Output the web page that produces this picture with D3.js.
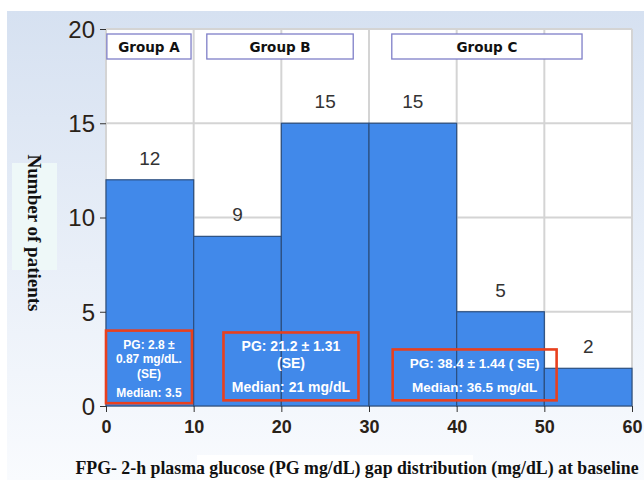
<!DOCTYPE html>
<html><head><meta charset="utf-8">
<script src="https://cdn.jsdelivr.net/npm/d3@7"></script>
<style>body{margin:0;background:#fff}svg{display:block}</style>
</head><body>
<svg id="c" width="644" height="480"></svg>
<script>
const binStarts = [0, 10, 20, 30, 40, 50];
const binWidth = 10;
const counts = [12, 9, 15, 15, 5, 2];
const yTicks = [0, 5, 10, 15, 20];
const xTicks = [0, 10, 20, 30, 40, 50, 60];
const groups = [
  {name: "Group A", x0: 0.1, x1: 9.7},
  {name: "Group B", x0: 11.5, x1: 28.2},
  {name: "Group C", x0: 32.6, x1: 54.3}
];
const notes = [
  {x0: 0, x1: 9.8, yTop: 4.0, yBot: 0.15, lines: ["PG: 2.8 ±", "0.87 mg/dL.", "(SE)", "Median: 3.5"], ys: [3.05, 2.3, 1.5, 0.5], size: 12},
  {x0: 13.4, x1: 28.8, yTop: 3.9, yBot: 0.3, lines: ["PG: 21.2 ± 1.31", "(SE)", "Median: 21 mg/dL"], ys: [2.9, 2.0, 0.75], size: 14},
  {x0: 32.7, x1: 51.4, yTop: 3.0, yBot: 0.3, lines: ["PG: 38.4 ± 1.44 ( SE)", "Median: 36.5 mg/dL"], ys: [2.0, 0.75], size: 13.5}
];

const svg = d3.select("#c");
const defs = svg.append("defs");
const g = defs.append("linearGradient").attr("id","bg").attr("x1",0).attr("y1",0).attr("x2",0).attr("y2",1);
g.append("stop").attr("offset","0%").attr("stop-color","#d6e1f1");
g.append("stop").attr("offset","100%").attr("stop-color","#f9fbfe");
svg.append("rect").attr("x",7).attr("y",11).attr("width",637).attr("height",469).attr("fill","url(#bg)");

const x = d3.scaleLinear().domain([0,60]).range([106,632]);
const y = d3.scaleLinear().domain([0,20]).range([406,29]);

svg.append("rect").attr("x",x(0)).attr("y",y(20)).attr("width",x(60)-x(0)).attr("height",y(0)-y(20)).attr("fill","#fff");

svg.append("g").selectAll("line").data(yTicks).join("line")
  .attr("x1",x(0)).attr("x2",x(60)).attr("y1",d=>y(d)).attr("y2",d=>y(d))
  .attr("stroke","#d4d4d4").attr("stroke-width",2);
svg.append("g").selectAll("line").data(xTicks).join("line")
  .attr("x1",d=>x(d)).attr("x2",d=>x(d)).attr("y1",y(0)).attr("y2",y(20))
  .attr("stroke","#d4d4d4").attr("stroke-width",2);

svg.append("g").selectAll("rect").data(counts).join("rect")
  .attr("x",(d,i)=>x(binStarts[i])).attr("width",(d,i)=>x(binStarts[i]+binWidth)-x(binStarts[i]))
  .attr("y",d=>y(d)).attr("height",d=>y(0)-y(d))
  .attr("fill","#4189ea").attr("stroke","#2c4f7f").attr("stroke-width",1.2);

svg.append("g").selectAll("text").data(counts).join("text")
  .attr("x",(d,i)=>x(binStarts[i]+binWidth/2)).attr("y",d=>y(d)-15)
  .attr("text-anchor","middle").attr("font-family","Liberation Sans, Arial, sans-serif")
  .attr("font-size",19).attr("fill","#333").text(d=>d);

const ya = svg.append("g").attr("transform",`translate(${x(0)},0)`)
  .call(d3.axisLeft(y).tickValues(yTicks).tickSize(6).tickPadding(5));
ya.select(".domain").remove();
ya.selectAll("line").attr("stroke","#333");
ya.selectAll("text").attr("font-family","Liberation Sans, Arial, sans-serif").attr("font-size",24).attr("fill","#2a2218").attr("dy","0.35em");

const xa = svg.append("g").attr("transform",`translate(0,${y(0)})`)
  .call(d3.axisBottom(x).tickValues(xTicks).tickSize(6).tickPadding(8));
xa.select(".domain").remove();
xa.selectAll("line").attr("stroke","#333");
xa.selectAll("text").attr("font-family","Liberation Sans, Arial, sans-serif").attr("font-size",18).attr("font-weight","bold").attr("fill","#2a2218");

const gb = svg.append("g").selectAll("g").data(groups).join("g");
gb.append("rect").attr("x",d=>x(d.x0)).attr("width",d=>x(d.x1)-x(d.x0)).attr("y",34).attr("height",25)
  .attr("fill","#fff").attr("stroke","#7f7fc8").attr("stroke-width",1.3);
gb.append("text").attr("x",d=>(x(d.x0)+x(d.x1))/2).attr("y",52).attr("text-anchor","middle")
  .attr("font-family","DejaVu Sans, Verdana, sans-serif").attr("font-weight","bold").attr("font-size",13.5).attr("fill","#111")
  .text(d=>d.name);

const nb = svg.append("g").selectAll("g").data(notes).join("g");
nb.append("rect").attr("x",d=>x(d.x0)).attr("width",d=>x(d.x1)-x(d.x0)).attr("y",d=>y(d.yTop)).attr("height",d=>y(d.yBot)-y(d.yTop))
  .attr("fill","none").attr("stroke","#e8401e").attr("stroke-width",2.6);
nb.each(function(d){
  const cx = (x(d.x0)+x(d.x1))/2;
  d3.select(this).selectAll("text").data(d.lines).join("text")
    .attr("x",cx).attr("y",(l,i)=>y(d.ys[i]))
    .attr("text-anchor","middle").attr("font-family","Liberation Sans, Arial, sans-serif")
    .attr("font-weight","bold").attr("font-size",d.size).attr("fill","#fff").text(l=>l);
});

svg.append("rect").attr("x",12).attr("y",163).attr("width",45).attr("height",107).attr("fill","#eef8f8");
svg.append("text").attr("transform","translate(28,233) rotate(90)").attr("text-anchor","middle")
  .attr("font-family","Liberation Serif, Times New Roman, serif").attr("font-weight","bold").attr("font-size",19).attr("fill","#111")
  .text("Number of patients");

svg.append("rect").attr("x",197).attr("y",455).attr("width",276).attr("height",25).attr("fill","#fff");
svg.append("text").attr("x",357).attr("y",474).attr("text-anchor","middle")
  .attr("font-family","Liberation Serif, Times New Roman, serif").attr("font-weight","bold").attr("font-size",17.8).attr("fill","#111")
  .text("FPG- 2-h plasma glucose (PG mg/dL) gap distribution (mg/dL) at baseline");
</script>
</body></html>
